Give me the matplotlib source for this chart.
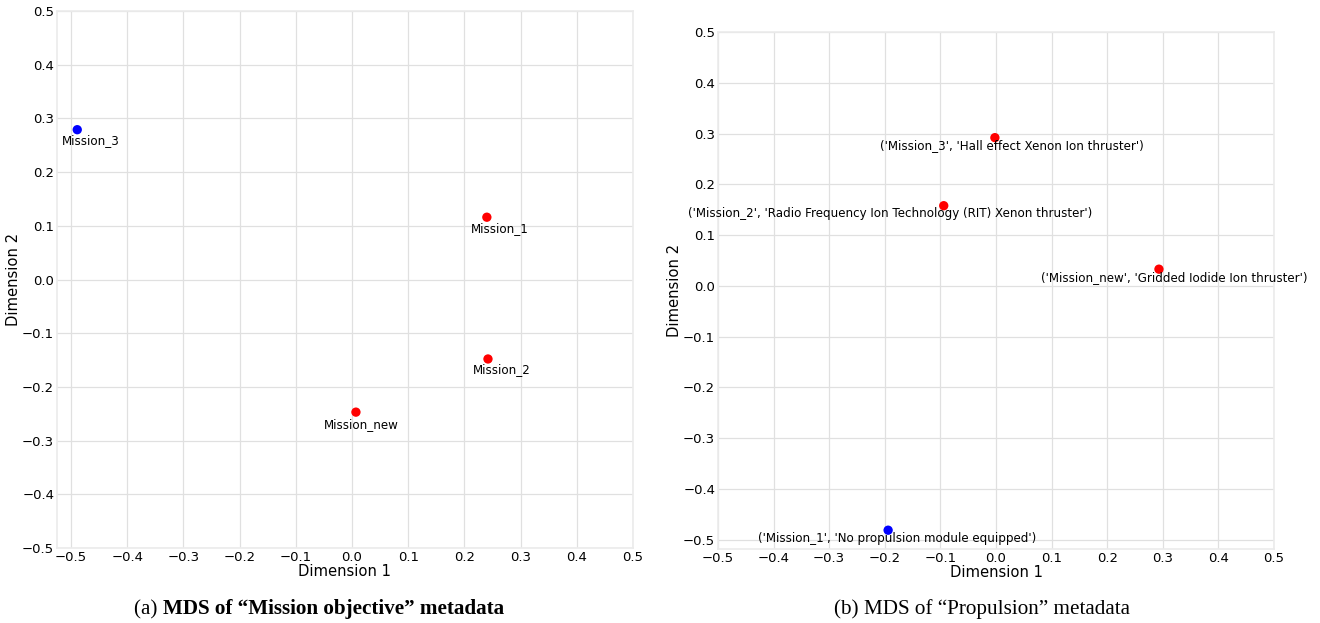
import numpy as np
import matplotlib
matplotlib.use("Agg")
import matplotlib.pyplot as plt

# left panel: "Mission objective"
obj_names = ["Mission_3", "Mission_1", "Mission_2", "Mission_new"]
obj_x = [-0.489, 0.240, 0.242, 0.007]
obj_y = [0.279, 0.116, -0.148, -0.247]
obj_colors = ["blue", "red", "red", "red"]

# right panel: "Propulsion"
prop_names = ["('Mission_3', 'Hall effect Xenon Ion thruster')",
              "('Mission_2', 'Radio Frequency Ion Technology (RIT) Xenon thruster')",
              "('Mission_new', 'Gridded Iodide Ion thruster')",
              "('Mission_1', 'No propulsion module equipped')"]
prop_x = [-0.002, -0.094, 0.293, -0.194]
prop_y = [0.292, 0.158, 0.033, -0.481]
prop_colors = ["red", "red", "red", "blue"]

ticks = [-0.5, -0.4, -0.3, -0.2, -0.1, 0.0, 0.1, 0.2, 0.3, 0.4, 0.5]

# label offsets in pixels (label centre relative to point)
obj_off = [(14, -11), (13, -11), (14, -11), (5, -12)]
prop_off = [(17, -8), (-54, -8), (15, -8), (9, -8)]

fig = plt.figure(figsize=(13.2, 6.23), dpi=100)
ax1 = fig.add_axes([0.0432, 0.1204, 0.4363, 0.8619])
ax2 = fig.add_axes([0.5439, 0.1188, 0.4213, 0.8298])


def style(ax):
    ax.set_facecolor("white")
    ax.grid(True, color="#e0e0e0", linewidth=0.9)
    ax.set_axisbelow(True)
    for s in ax.spines.values():
        s.set_color("#ebebeb")
        s.set_linewidth(1.2)
    ax.tick_params(length=0, pad=2, labelsize=9.5, colors="black")
    ax.set_xticks(ticks)
    ax.set_yticks(ticks)
    ax.set_xlabel("Dimension 1", fontsize=10.6, labelpad=0)
    ax.set_ylabel("Dimension 2", fontsize=10.6, labelpad=1)


def draw(ax, xs, ys, cols, names, offs):
    ax.scatter(xs, ys, c=cols, s=45, zorder=3, linewidths=0)
    for x, y, n, o in zip(xs, ys, names, offs):
        ax.annotate(n, (x, y), xytext=(o[0] * 0.72, o[1] * 0.72),
                    textcoords="offset points", ha="center", va="center",
                    fontsize=8.6)


style(ax1)
draw(ax1, obj_x, obj_y, obj_colors, obj_names, obj_off)
ax1.set_xlim(-0.525, 0.5)
ax1.set_ylim(-0.5, 0.5)

style(ax2)
draw(ax2, prop_x, prop_y, prop_colors, prop_names, prop_off)
ax2.set_xlim(-0.5, 0.5)
ax2.set_ylim(-0.518, 0.5)


def caption(cx, y, first, rest, bold):
    fig.canvas.draw()
    r = fig.canvas.get_renderer()
    t1 = fig.text(0, y, first, family="Liberation Serif", fontsize=15.2, va="baseline")
    t2 = fig.text(0, y, rest, family="Liberation Serif", fontsize=15.2, va="baseline",
                  weight="bold" if bold else "normal")
    w1 = t1.get_window_extent(r).width / fig.bbox.width
    w2 = t2.get_window_extent(r).width / fig.bbox.width
    x0 = cx - (w1 + w2) / 2
    t1.set_x(x0)
    t2.set_x(x0 + w1)


caption(319 / 1320, 1 - 614 / 623, "(a) ", "MDS of \u201cMission objective\u201d metadata", True)
caption(982 / 1320, 1 - 614 / 623, "(b) ", "MDS of \u201cPropulsion\u201d metadata", False)

fig.savefig("out.png", dpi=100)
